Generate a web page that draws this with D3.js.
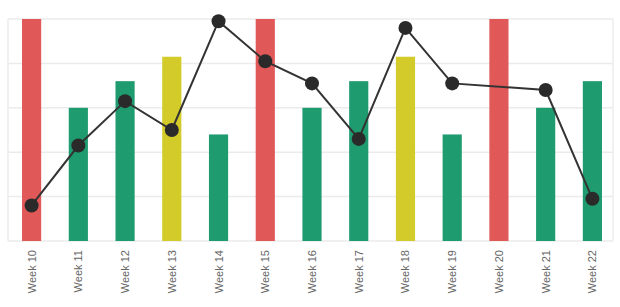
<!DOCTYPE html>
<html>
<head>
<meta charset="utf-8">
<script src="https://cdn.jsdelivr.net/npm/d3@7"></script>
<style>
  body { margin: 0; background: #fff; }
  text { font-family: "Liberation Sans", Arial, sans-serif; }
</style>
</head>
<body>
<div id="chart-area"></div>
<script>
// categories
var weeks = ["Week 10", "Week 11", "Week 12", "Week 13", "Week 14", "Week 15", "Week 16",
             "Week 17", "Week 18", "Week 19", "Week 20", "Week 21", "Week 22"];
// bar values (0-100)
var barValues = [100, 60, 72, 83, 48, 100, 60, 72, 83, 48, 100, 60, 72];
// bar status per week
var barStatus = ["red", "green", "green", "yellow", "green", "red", "green",
                 "green", "yellow", "green", "red", "green", "green"];
// line values, null = no point for that week
var lineValues = [16, 43, 63, 50, 99, 81, 71, 46, 96, 71, null, 68, 19];
var yTicks = [0, 20, 40, 60, 80, 100];

var statusColor = { red: "#e15858", green: "#1f9b70", yellow: "#d2cb2a" };

// set the dimensions and margins of the graph
var margin = {top: 19, right: 4, bottom: 66, left: 8},
  width = 620 - margin.left - margin.right,
  height = 307 - margin.top - margin.bottom;

var svg = d3.select("#chart-area")
  .append("svg")
  .attr("width", 620)
  .attr("height", 307)
  .append("g")
  .attr("transform", "translate(" + margin.left + "," + margin.top + ")");

var x = d3.scaleBand()
  .domain(weeks)
  .range([0, width])
  .paddingInner(0.59)
  .paddingOuter(0.3);

var y = d3.scaleLinear()
  .domain([0, 100])
  .range([height, 0]);

// gridlines
svg.append("g")
  .selectAll("line")
  .data(yTicks)
  .enter()
  .append("line")
  .attr("x1", 0)
  .attr("x2", width - 3)
  .attr("y1", function(d) { return y(d); })
  .attr("y2", function(d) { return y(d); })
  .attr("stroke", "#ebebeb")
  .attr("stroke-width", 1.5);

// side borders
svg.append("line")
  .attr("x1", 0).attr("x2", 0)
  .attr("y1", 0).attr("y2", height)
  .attr("stroke", "#ececec").attr("stroke-width", 1.5);
svg.append("line")
  .attr("x1", width - 3).attr("x2", width - 3)
  .attr("y1", 0).attr("y2", height)
  .attr("stroke", "#ececec").attr("stroke-width", 1.5);

// bars
svg.selectAll("rect.bar")
  .data(weeks)
  .enter()
  .append("rect")
  .attr("class", "bar")
  .attr("x", function(d) { return x(d); })
  .attr("y", function(d, i) { return y(barValues[i]); })
  .attr("width", x.bandwidth())
  .attr("height", function(d, i) { return height - y(barValues[i]); })
  .style("fill", function(d, i) { return statusColor[barStatus[i]]; });

// line
var points = weeks.map(function(w, i) { return {week: w, value: lineValues[i]}; })
  .filter(function(d) { return d.value !== null; });

var line = d3.line()
  .x(function(d) { return x(d.week) + x.bandwidth() / 2; })
  .y(function(d) { return y(d.value); });

svg.append("path")
  .datum(points)
  .attr("d", line)
  .attr("fill", "none")
  .attr("stroke", "#333")
  .attr("stroke-width", 2);

svg.selectAll("circle")
  .data(points)
  .enter()
  .append("circle")
  .attr("cx", function(d) { return x(d.week) + x.bandwidth() / 2; })
  .attr("cy", function(d) { return y(d.value); })
  .attr("r", 7)
  .attr("fill", "#2a2a2a");

// x labels
svg.append("g")
  .selectAll("text")
  .data(weeks)
  .enter()
  .append("text")
  .attr("transform", function(d) {
    return "translate(" + (x(d) + x.bandwidth() / 2 + 4) + "," + (height + 9) + ") rotate(-90)";
  })
  .attr("text-anchor", "end")
  .attr("font-size", 11)
  .attr("fill", "#666")
  .text(function(d) { return d; });
</script>
</body>
</html>
